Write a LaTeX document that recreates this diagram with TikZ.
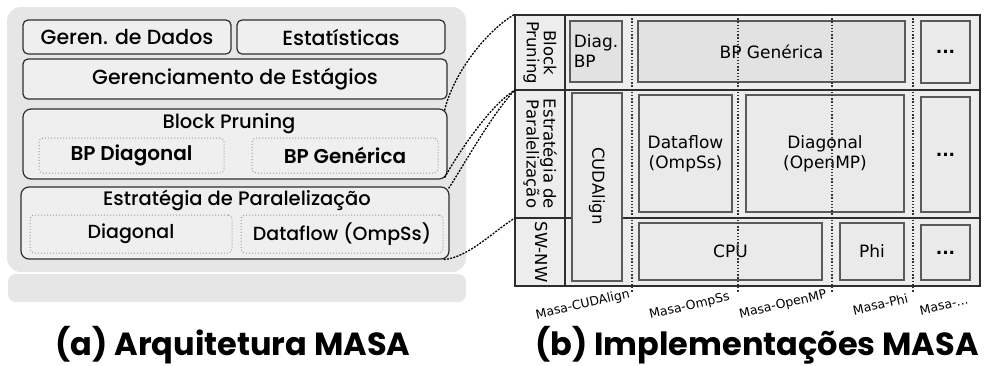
\documentclass[tikz,border=0pt]{standalone}
\usepackage{fontspec}
\newfontfamily\archfont{Poppins Medium}
\newfontfamily\archsemi{Poppins SemiBold}
\newfontfamily\capfont{Poppins}
\newfontfamily\implfont{DejaVu Sans}
\usetikzlibrary{calc}

\definecolor{panelgray}{HTML}{E6E6E6}
\definecolor{layerfill}{HTML}{EFEFEF}
\definecolor{boxline}{HTML}{2E2E2E}
\definecolor{gridfill}{HTML}{EDEDED}
\definecolor{cellfill}{HTML}{EAEAEA}
\definecolor{celldark}{HTML}{E2E2E2}
\definecolor{cellline}{HTML}{5A5A5A}

\newcommand{\tiltlabel}[1]{\rotatebox{13}{#1}}

\tikzset{
  panel/.style={fill=panelgray, rounded corners=14pt, inner sep=0pt},
  layer/.style={draw=boxline, line width=1.2pt, fill=layerfill, rounded corners=5pt,
                inner sep=0pt, font=\archfont\fontsize{19}{22}\selectfont},
  toplayer/.style={layer, font=\archfont\fontsize{20.5}{22}\selectfont},
  sublayer/.style={draw=gray!75, dotted, line width=1pt, fill=layerfill, rounded corners=4pt,
                inner sep=0pt, font=\archfont\fontsize{19}{22}\selectfont},
  bpsub/.style={sublayer, font=\archsemi\fontsize{20}{22}\selectfont},
  ltitle/.style={inner sep=0pt, font=\archfont\fontsize{19.5}{22}\selectfont},
  cell/.style={draw=cellline, line width=1.1pt, fill=cellfill, inner sep=0pt,
               font=\implfont\fontsize{17}{20}\selectfont, align=center},
  rowlab/.style={rotate=-90, align=center, inner sep=0pt,
               font=\implfont\fontsize{16.5}{17}\selectfont},
  masa/.style={anchor=north east, inner sep=0pt,
               font=\implfont\fontsize{12.5}{14}\selectfont},
  conn/.style={line width=1.3pt, dash pattern=on 2pt off 1.3pt},
  lane/.style={line width=1.1pt, dash pattern=on 1.4pt off 1.8pt, black!80},
  caption/.style={inner sep=0pt, anchor=base, font=\capfont\bfseries\fontsize{32}{36}\selectfont},
}

\begin{document}
\begin{tikzpicture}[x=1pt,y=-1pt]
\useasboundingbox (0,0) rectangle (984,365);
\fill[white] (0,0) rectangle (984,365);

% ---------- (a) layered architecture ----------
\node[panel, minimum width=459pt, minimum height=265pt] (archbg) at (236.5,139.5) {};
\node[panel, rounded corners=8pt, minimum width=458pt, minimum height=28pt] (base) at (237,288) {};

\node[toplayer, minimum width=208pt, minimum height=34pt] (dados) at (127,37) {Geren. de Dados};
\node[toplayer, minimum width=208pt, minimum height=34pt] (estat) at (341,37) {Estatísticas};
\node[toplayer, minimum width=424pt, minimum height=40pt] (estag) at (235,79) {Gerenciamento de Estágios};

\node[layer, rounded corners=8pt, minimum width=424pt, minimum height=70pt] (bp) at (235,144) {};
\node[ltitle] (bpt) at (229,124) {Block Pruning};
\node[bpsub, minimum width=185pt, minimum height=35pt] (bpdiag) at (131.5,155.5) {BP Diagonal};
\node[bpsub, minimum width=186pt, minimum height=35pt] (bpgen) at (345,155.5) {BP Genérica};

\node[layer, rounded corners=8pt, minimum width=428pt, minimum height=72pt] (par) at (235,223) {};
\node[ltitle] (part) at (237,200) {Estratégia de Paralelização};
\node[sublayer, minimum width=202pt, minimum height=38pt] (pdiag) at (131,234) {Diagonal};
\node[sublayer, minimum width=202pt, minimum height=38pt] (pdf) at (342,234) {Dataflow (OmpSs)};

% ---------- (b) implementations grid ----------
\node[draw=boxline, line width=1.2pt, fill=gridfill, inner sep=0pt,
      minimum width=465pt, minimum height=271pt] (grid) at (747.5,150.5) {};
\coordinate (c1) at (515,90);
\coordinate (c2) at (515,218);
\draw[boxline, line width=1.5pt] (grid.west |- c1) -- (grid.east |- c1);
\draw[boxline, line width=1.5pt] (grid.west |- c2) -- (grid.east |- c2);
\draw[boxline, line width=1.2pt] (565,15) -- (565,286);

\node[rowlab] (lbp) at (540,52.5) {Block\\Pruning};
\node[rowlab] (lpar) at (540,154) {Estratégia de\\Paralelização};
\node[rowlab] (lsw) at (541,252) {SW-NW};

\node[cell, fill=celldark, minimum width=52pt, minimum height=61pt, align=left] (dbp) at (596,51.5) {Diag.\\BP};
\node[cell, fill=celldark, minimum width=267pt, minimum height=61pt] (bpg) at (771.5,51.5) {BP Genérica};
\node[cell, minimum width=49pt, minimum height=62pt] (dots1) at (945.5,52) {\textbf{...}};

\node[cell, minimum width=50pt, minimum height=188pt] (cuda) at (597,187) {};
\node[rowlab] (cudat) at (597,186) {CUDAlign};
\node[cell, minimum width=93pt, minimum height=117pt] (dflow) at (685.5,153.5) {Dataflow\\(OmpSs)};
\node[cell, minimum width=158pt, minimum height=117pt] (diag) at (825,153.5) {Diagonal\\(OpenMP)};
\node[cell, minimum width=49pt, minimum height=115pt] (dots2) at (945.5,154.5) {\textbf{...}};

\node[cell, minimum width=183pt, minimum height=57pt] (cpu) at (730.5,251.5) {CPU};
\node[cell, minimum width=64pt, minimum height=57pt] (phi) at (872,251.5) {Phi};
\node[cell, minimum width=49pt, minimum height=55pt] (dots3) at (945.5,252.5) {\textbf{...}};

% version lanes
\foreach \x/\n in {632/la, 738/lb, 832/lc, 913/ld} {
  \coordinate (\n top) at (\x,15);
  \coordinate (\n bot) at (\x,293);
  \draw[lane] (\n top) -- (\n bot);
}
\node[masa] (ma) at (631,288) {\tiltlabel{Masa-CUDAlign}};
\node[masa] (mb) at (731,291) {\tiltlabel{Masa-OmpSs}};
\node[masa] (mc) at (828,289) {\tiltlabel{Masa-OpenMP}};
\node[masa] (md) at (909,293) {\tiltlabel{Masa-Phi}};
\node[masa] (me) at (969,295) {\tiltlabel{Masa-...}};

% ---------- zoom connectors ----------
\draw[conn] ([xshift=-3pt,yshift=-2pt]bp.north east) .. controls +(8,-35) and +(-30,18) .. (grid.north west);
\draw[conn] ([xshift=-3pt,yshift=2pt]bp.south east) .. controls +(12,-22) and +(-25,15) .. (c1);
\draw[conn] ([xshift=-1pt,yshift=-2pt]par.north east) .. controls +(12,-18) and +(-22,22) .. (c1);
\draw[conn] ([xshift=-6pt]par.south east) .. controls +(25,-2) and +(-20,12) .. (c2);

% ---------- captions ----------
\node[caption] (capa) at (233,355) {(a) Arquitetura MASA};
\node[caption] (capb) at (757,355) {(b) Implementações MASA};
\end{tikzpicture}
\end{document}
